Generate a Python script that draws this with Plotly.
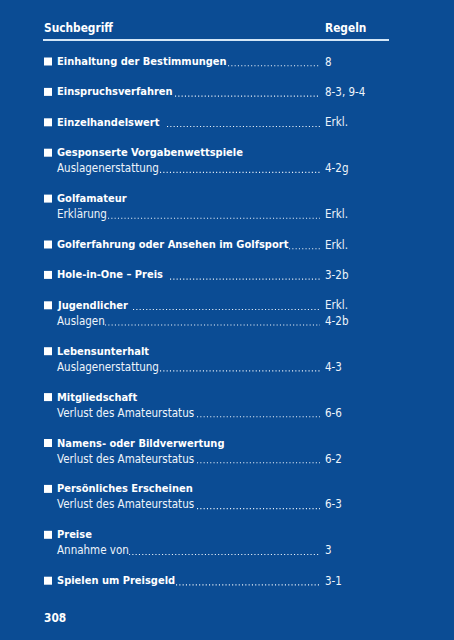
import plotly.graph_objects as go

# ---- data ----
header_term = "Suchbegriff"
header_ref = "Regeln"
page_number = "308"

main_terms = [
    "Einhaltung der Bestimmungen",
    "Einspruchsverfahren",
    "Einzelhandelswert",
    "Gesponserte Vorgabenwettspiele",
    "Golfamateur",
    "Golferfahrung oder Ansehen im Golfsport",
    "Hole-in-One – Preis",
    "Jugendlicher",
    "Lebensunterhalt",
    "Mitgliedschaft",
    "Namens- oder Bildverwertung",
    "Persönliches Erscheinen",
    "Preise",
    "Spielen um Preisgeld",
]
main_refs = ["8", "8-3, 9-4", "Erkl.", "", "", "Erkl.", "3-2b", "Erkl.", "", "", "", "", "", "3-1"]
sub_terms = ["", "", "", "Auslagenerstattung", "Erklärung", "", "", "Auslagen",
             "Auslagenerstattung", "Verlust des Amateurstatus", "Verlust des Amateurstatus",
             "Verlust des Amateurstatus", "Annahme von", ""]
sub_refs = ["", "", "", "4-2g", "Erkl.", "", "", "4-2b", "4-3", "6-6", "6-2", "6-3", "3", ""]

# ---- layout (pixel coordinates) ----
main_leader_start = [228, 175, 167, None, None, 289, 170, 133, None, None, None, None, None, 176]
sub_leader_start = [None, None, None, 160, 108, None, None, 105, 160, 197, 197, 197, 129, None]

BG = "#0b4c94"
WHITE = "#ffffff"
LIGHT = "#eef4fb"
FONT = "DejaVu Sans Condensed, sans-serif"
X_BULLET = 48
X_TEXT = 55
X_LEADER_END = 320
X_REF = 323
Y0 = 61.5
STEP = 30.4
SUB_STEP = 15.5
SIZE_BOLD = 11.0
SIZE_REG = 11.5

fig = go.Figure()
fig.add_trace(go.Scatter(x=[0], y=[0], mode="markers", marker=dict(opacity=0), hoverinfo="skip", showlegend=False))

annotations = []
shapes = []

def text(x, y, s, bold=False, color=WHITE, size=None):
    if size is None:
        size = SIZE_BOLD if bold else SIZE_REG
    annotations.append(dict(
        x=x, y=y, xref="x", yref="y", text=("<b>%s</b>" % s) if bold else s,
        showarrow=False, xanchor="left", yanchor="middle",
        font=dict(family=FONT, size=size, color=color),
    ))

def leader(x0, y):
    shapes.append(dict(type="line", xref="x", yref="y", x0=x0, x1=X_LEADER_END, y0=y + 4.2, y1=y + 4.2,
                       line=dict(color=LIGHT, width=1.1, dash="1.1px,2.2px")))

# header
text(42, 28, header_term, bold=True, size=11.8)
text(323, 28, header_ref, bold=True, size=11.8)
shapes.append(dict(type="line", xref="x", yref="y", x0=43, x1=389, y0=40, y1=40,
                   line=dict(color="#d3e6f7", width=2)))

y = Y0
for i, term in enumerate(main_terms):
    shapes.append(dict(type="rect", xref="x", yref="y", x0=X_BULLET - 4, x1=X_BULLET + 4,
                       y0=y - 4, y1=y + 4, fillcolor=WHITE, line=dict(width=0)))
    text(X_TEXT, y, term, bold=True)
    if main_refs[i]:
        leader(main_leader_start[i], y)
        text(X_REF, y, main_refs[i], color=LIGHT)
    if sub_terms[i]:
        ys = y + SUB_STEP
        text(X_TEXT, ys, sub_terms[i], color=LIGHT)
        leader(sub_leader_start[i], ys)
        text(X_REF, ys, sub_refs[i], color=LIGHT)
        y = ys
    y += STEP

text(42, 618, page_number, bold=True, size=11.8)

fig.update_layout(
    width=454, height=640,
    margin=dict(l=0, r=0, t=0, b=0),
    paper_bgcolor=BG, plot_bgcolor=BG,
    xaxis=dict(range=[0, 454], visible=False, fixedrange=True),
    yaxis=dict(range=[640, 0], visible=False, fixedrange=True),
    annotations=annotations, shapes=shapes, showlegend=False,
)
fig.write_html("out.html", config={"displayModeBar": False},
               post_script="document.body.style.margin='0';")
